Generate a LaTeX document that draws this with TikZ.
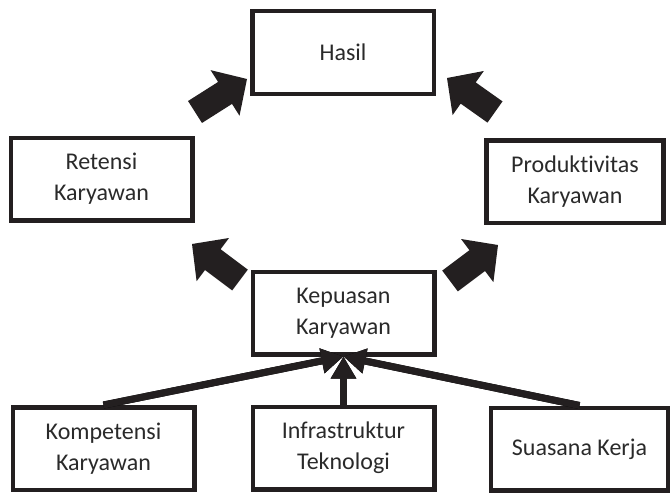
\documentclass[tikz,border=0pt]{standalone}
\usepackage{fontspec}
\setmainfont[Ligatures=NoCommon]{Carlito}
\usetikzlibrary{arrows.meta,calc}
\definecolor{ink}{HTML}{231F20}
\definecolor{txt}{HTML}{2A2A2A}
\definecolor{shade}{HTML}{9C9C9C}
% block arrow from tail point #1 to tip point #2
\newcommand{\fatarrow}[2]{%
  \coordinate (#1-base) at ($(#2)!26pt!(#1)$);
  \fill[ink] ($(#1)!13pt!90:(#2)$) -- ($(#1-base)!13pt!90:(#2)$)
    -- ($(#1-base)!27pt!90:(#2)$) -- (#2)
    -- ($(#1-base)!27pt!-90:(#2)$) -- ($(#1-base)!13pt!-90:(#2)$)
    -- ($(#1)!13pt!-90:(#2)$) -- cycle;}
\begin{document}
\begin{tikzpicture}[x=1pt,y=-1pt,
  box/.style={draw=ink, line width=4.5pt, minimum width=181.5pt,
    minimum height=82.5pt, align=center, text=txt, inner sep=0pt,
    font=\fontsize{24}{31}\selectfont},
  narrowbox/.style={box, minimum width=177pt},
  tipstyle/.style={-{Triangle[length=22pt,width=24pt]}},
  link/.style={ink, line width=7pt, tipstyle},
  linkshade/.style={shade, line width=7pt, tipstyle, shift={(2,3)}}]
\useasboundingbox (0,0) rectangle (671,495);

% boxes
\node[box] (hasil) at (343,52.5) {Hasil};
\node[box] (retensi) at (101.5,179) {Retensi\\Karyawan};
\node[narrowbox] (produk) at (575,181.5) {Produktivitas\\Karyawan};
\node[box] (kepuasan) at (343.5,313) {Kepuasan\\Karyawan};
\node[box] (kompetensi) at (103.5,448.5) {Kompetensi\\Karyawan};
\node[box] (infra) at (343.5,448) {Infrastruktur\\Teknologi};
\node[narrowbox] (suasana) at (579.5,449) {Suasana Kerja};

% block arrows between the upper levels
\coordinate (t1) at (195,112);  \coordinate (p1) at (247,79);
\coordinate (t2) at (495,112);  \coordinate (p2) at (447,78);
\coordinate (t3) at (240,280);  \coordinate (p3) at (192,244);
\coordinate (t4) at (450,281);  \coordinate (p4) at (498,245);
\fatarrow{t1}{p1}
\fatarrow{t2}{p2}
\fatarrow{t3}{p3}
\fatarrow{t4}{p4}

% factor connectors with grey drop shade
\draw[linkshade] (kompetensi.north) -- (kepuasan.south);
\draw[linkshade] (infra.north) -- (kepuasan.south);
\draw[linkshade] (suasana.north) -- (kepuasan.south);
\draw[link] (kompetensi.north) -- (kepuasan.south);
\draw[link] (infra.north) -- (kepuasan.south);
\draw[link] (suasana.north) -- (kepuasan.south);
\end{tikzpicture}
\end{document}
